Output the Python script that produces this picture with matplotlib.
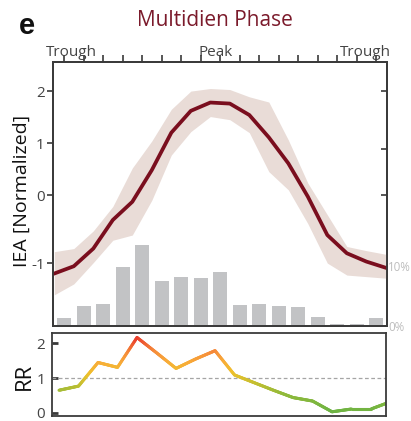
import numpy as np
import matplotlib
matplotlib.use('Agg')
import matplotlib.pyplot as plt
from matplotlib.collections import LineCollection
from matplotlib.colors import LinearSegmentedColormap

plt.rcParams['font.family'] = ['Open Sans', 'DejaVu Sans']

# ---- data ----
phase_edges = [0.5, 1.5, 2.5, 3.5, 4.5, 5.5, 6.5, 7.5, 8.5, 9.5,
               10.5, 11.5, 12.5, 13.5, 14.5, 15.5, 16.5, 17.5]
iea_mean = [-1.51, -1.37, -1.03, -0.48, -0.13, 0.48, 1.20, 1.62, 1.78, 1.76,
            1.54, 1.11, 0.61, -0.03, -0.77, -1.12, -1.28, -1.40]
iea_upper = [-1.09, -1.03, -0.69, -0.22, 0.52, 1.04, 1.65, 2.00, 2.05, 2.03,
             1.89, 1.79, 1.06, 0.23, -0.38, -0.99, -1.07, -1.14]
iea_lower = [-1.92, -1.71, -1.30, -0.87, -0.77, -0.10, 0.77, 1.22, 1.51, 1.45,
             1.20, 0.45, 0.10, -0.55, -1.31, -1.54, -1.57, -1.60]

bin_centers = [1, 2, 3, 4, 5, 6, 7, 8, 9, 10, 11, 12, 13, 14, 15, 16, 17]
seizure_pct = [1.4, 3.4, 3.7, 9.8, 13.5, 7.5, 8.1, 7.95, 9.0, 3.5, 3.6, 3.3,
               3.2, 1.55, 0.35, 0.3, 1.35]

rr_x = [1, 2, 3, 4, 5, 6, 7, 8, 9, 10, 11, 12, 13, 14, 15, 16, 17, 18]
rr_values = [0.65, 0.77, 1.45, 1.31, 2.17, 1.73, 1.28, 1.55, 1.79, 1.09,
             0.87, 0.65, 0.44, 0.34, 0.03, 0.11, 0.11, 0.32]

phase_labels = ['Trough', 'Peak', 'Trough']
iea_ticks = [2, 1, 0, -1.31]
iea_ticklabels = ['2', '1', '0', '-1']
pct_ticks = [0, 10]
pct_ticklabels = ['0%', '10%']
rr_ticks = [0, 1, 2]

# ---- styles ----
W, H = 411, 421
dark = '#3a3a3a'
txt = '#444444'
fig = plt.figure(figsize=(W / 100, H / 100), dpi=100)


def fx(px):
    return px / W


def fy(py):
    return 1 - py / H


# main axes
ax = fig.add_axes([fx(53), fy(326), fx(387) - fx(53), fy(62) - fy(326)])
ax2 = ax.twinx()
ax2.bar(bin_centers, seizure_pct, width=0.72, color='#c2c3c5', lw=0)
ax2.set_ylim(0, 44)
ax2.set_yticks(pct_ticks)
ax2.set_yticklabels(pct_ticklabels)
ax2.tick_params(axis='y', which='major', length=0, labelcolor='#bdbdbd',
                labelsize=8.3, pad=1)
ax2.set_yticks([21.8, 29.5, 39.2], minor=True)
ax2.tick_params(axis='y', which='minor', direction='in', length=4,
                width=1.2, color=dark)

ax.set_zorder(ax2.get_zorder() + 1)
ax.patch.set_visible(False)
ax.fill_between(phase_edges, iea_lower, iea_upper, color='#e9dcd7', lw=0)
ax.plot(phase_edges, iea_mean, color='#7a0e1e', lw=2.7)
ax.set_xlim(0.433, 17.56)
ax.set_ylim(-2.52, 2.56)
ax.set_yticks(iea_ticks)
ax.set_yticklabels(iea_ticklabels)
ax.tick_params(axis='y', direction='out', length=4, width=1.2, color=dark,
               labelcolor=txt, labelsize=11, pad=2)
ax.xaxis.set_ticks_position('top')
ax.set_xticks(bin_centers)
ax.set_xticklabels([''] * len(bin_centers))
ax.tick_params(axis='x', direction='out', length=5, width=1.2, color=dark)
for a in (ax, ax2):
    for s in a.spines.values():
        s.set_color(dark)
        s.set_linewidth(1.3)

# top phase labels
for lab, px in zip(phase_labels, [71.5, 216, 365]):
    fig.text(fx(px), fy(56.5), lab, ha='center', va='baseline',
             fontsize=11, color=txt)

fig.text(fx(22), fy(191), 'IEA [Normalized]', rotation=90, ha='center',
         va='center', fontsize=14, color='#111111')

# RR axes
axr = fig.add_axes([fx(52.3), fy(416.3), fx(385.7) - fx(52.3), fy(333) - fy(416.3)])
axr.set_xlim(0.656, 17.75)
axr.set_ylim(-0.1, 2.3)
axr.axhline(1, ls=(0, (3, 2)), color='#a5a5a5', lw=0.9)

cmap = LinearSegmentedColormap.from_list('rr', [
    (0.0, '#6bb344'), (0.25, '#93ba3a'), (0.38, '#c4bf30'),
    (0.52, '#efc02c'), (0.66, '#f8ad38'), (0.8, '#f68c3a'), (1.0, '#e8352b')])
xs, ys = [], []
for i in range(len(rr_x) - 1):
    t = np.linspace(0, 1, 25, endpoint=False)
    xs.extend(rr_x[i] + (rr_x[i + 1] - rr_x[i]) * t)
    ys.extend(rr_values[i] + (rr_values[i + 1] - rr_values[i]) * t)
xs.append(rr_x[-1])
ys.append(rr_values[-1])
xs = np.array(xs)
ys = np.array(ys)
pts = np.column_stack([xs, ys]).reshape(-1, 1, 2)
segs = np.concatenate([pts[:-1], pts[1:]], axis=1)
lc = LineCollection(segs, cmap=cmap, norm=plt.Normalize(0, 2.2),
                    linewidths=2.2, capstyle='round', joinstyle='round')
lc.set_array((ys[:-1] + ys[1:]) / 2)
axr.add_collection(lc)
axr.set_xticks([])
axr.set_yticks(rr_ticks)
axr.tick_params(axis='y', direction='in', length=4, width=2, color=dark,
                labelcolor=txt, labelsize=11, pad=5)
for s in axr.spines.values():
    s.set_color(dark)
    s.set_linewidth(1.3)

fig.text(fx(24.5), fy(376), 'RR', rotation=90, ha='center', va='center',
         fontsize=16, color='#111111')

fig.text(fx(27), fy(26), 'e', ha='center', va='center', fontsize=21,
         fontweight='bold', family=['Liberation Sans', 'DejaVu Sans'],
         color='#111111')
fig.text(fx(215), fy(20), 'Multidien Phase', ha='center', va='center',
         fontsize=15, color='#7b1a2b')

fig.savefig('out.png', dpi=100)
